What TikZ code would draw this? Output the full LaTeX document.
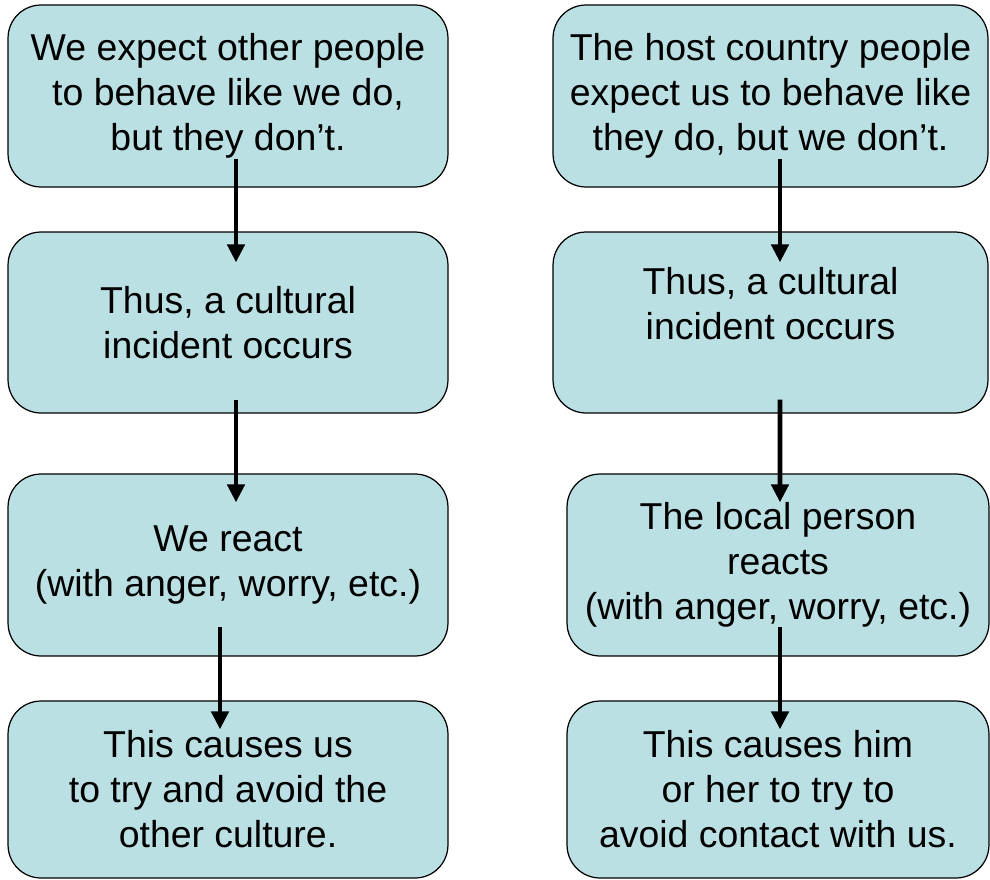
\documentclass[tikz,border=0pt]{standalone}
\usepackage{fontspec}
\setmainfont{Liberation Sans}
\usepackage{tikz}
\usetikzlibrary{arrows.meta}
\definecolor{boxfill}{RGB}{187,224,227}
\tikzset{
  stepbox/.style={draw=black, line width=0.7pt, fill=boxfill, rounded corners=0.66cm,
    inner sep=0pt, align=center, font=\fontsize{21.3}{25.6}\selectfont},
  flow/.style={line width=2.6pt, -{Triangle[width=0.34cm,length=0.36cm]}}
}
\begin{document}
\begin{tikzpicture}[x=0.02cm,y=-0.02cm]
\useasboundingbox (0,0) rectangle (990,879);
% left column
\node[stepbox, minimum width=8.8cm, minimum height=3.64cm] (l1) at (228,96)
  {We expect other people\\to behave like we do,\\but they don’t.};
\node[stepbox, minimum width=8.8cm, minimum height=3.62cm] (l2) at (228,322.5)
  {Thus, a cultural\\incident occurs};
\node[stepbox, minimum width=8.8cm, minimum height=3.64cm] (l3) at (228,565)
  {We react\\(with anger, worry, etc.)};
\node[stepbox, minimum width=8.8cm, minimum height=3.54cm] (l4) at (228,789.5)
  {This causes us\\to try and avoid the\\other culture.};
% right column
\node[stepbox, minimum width=8.7cm, minimum height=3.64cm] (r1) at (770.5,96)
  {The host country people\\expect us to behave like\\they do, but we don’t.};
\node[stepbox, minimum width=8.7cm, minimum height=3.62cm,
  label={[align=center, font=\fontsize{21.3}{25.6}\selectfont, yshift=0.38cm]center:Thus, a cultural\\incident occurs}]
  (r2) at (770.5,322.5) {};
\node[stepbox, minimum width=8.44cm, minimum height=3.64cm] (r3) at (778,565)
  {The local person\\reacts\\(with anger, worry, etc.)};
\node[stepbox, minimum width=8.44cm, minimum height=3.54cm] (r4) at (778,789.5)
  {This causes him\\or her to try to\\avoid contact with us.};
% arrows
\draw[flow] ([xshift=0.16cm,yshift=0.58cm]l1.south) -- ([xshift=0.16cm,yshift=-0.62cm]l2.north);
\draw[flow] ([xshift=0.16cm,yshift=0.28cm]l2.south) -- ([xshift=0.16cm,yshift=-0.58cm]l3.north);
\draw[flow] ([xshift=-0.16cm,yshift=0.6cm]l3.south) -- ([xshift=-0.16cm,yshift=-0.58cm]l4.north);
\draw[flow] ([xshift=0.19cm,yshift=0.58cm]r1.south) -- ([xshift=0.19cm,yshift=-0.62cm]r2.north);
\draw[flow] ([xshift=0.19cm,yshift=0.28cm]r2.south) -- ([xshift=0.04cm,yshift=-0.58cm]r3.north);
\draw[flow] ([xshift=0.04cm,yshift=0.6cm]r3.south) -- ([xshift=0.04cm,yshift=-0.58cm]r4.north);
\end{tikzpicture}
\end{document}
